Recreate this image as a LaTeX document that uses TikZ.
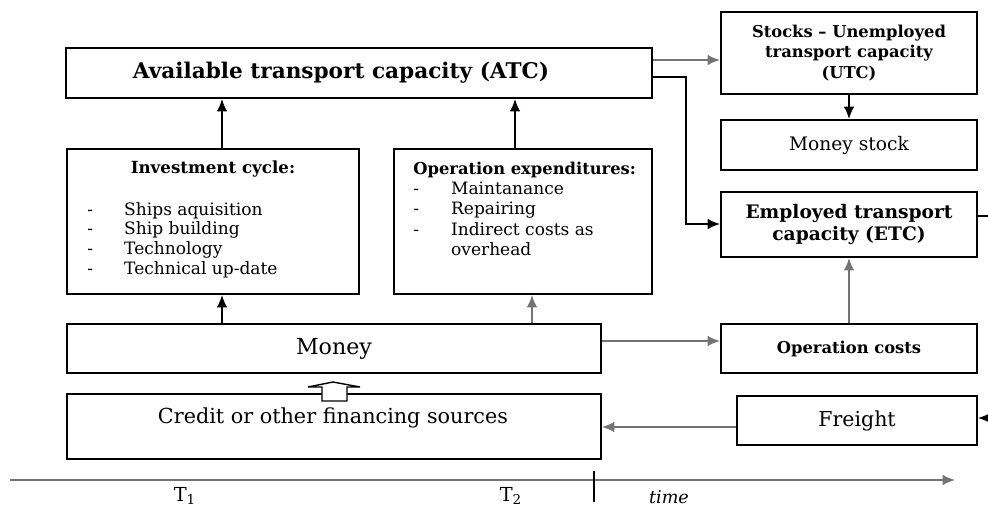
\documentclass[tikz,border=0pt]{standalone}
\usepackage{fontspec}
\setmainfont{DejaVu Serif}
\usetikzlibrary{arrows.meta}
\definecolor{line_grey}{RGB}{115, 115, 115}
\tikzstyle{box}=[rectangle,draw=black,line width=1.2pt,inner sep=0pt]
\tikzstyle{txt}=[inner sep=0pt,align=center]
\tikzstyle{arr}=[line width=0.9pt,-{Latex[length=7pt,width=6pt]}]
\tikzstyle{garr}=[line width=1pt,draw=line_grey,-{Latex[length=7pt,width=6pt]}]

\begin{document}
\begin{tikzpicture}[x=0.02cm, y=-0.02cm]
	\useasboundingbox (0,0) rectangle (988,508);
	\node [style=box, minimum width=11.72cm, minimum height=1cm] (0) at (359,73) {};
	\node [style=txt, font=\fontsize{12.3}{14}\selectfont\bfseries] (1) at (341,73) {Available transport capacity (ATC)};
	\node [style=box, minimum width=5.12cm, minimum height=1.64cm, font=\fontsize{9.3}{11.6}\selectfont\bfseries, align=center] (2) at (849,53) {Stocks -- Unemployed\\transport capacity\\(UTC)};
	\node [style=box, minimum width=5.12cm, minimum height=1cm, font=\fontsize{10.6}{12}\selectfont] (3) at (849,145) {Money stock};
	\node [style=box, minimum width=5.12cm, minimum height=1.3cm, font=\fontsize{10.6}{12.4}\selectfont\bfseries, align=center] (4) at (849,224.5) {Employed transport\\capacity (ETC)};
	\node [style=box, minimum width=5.84cm, minimum height=2.9cm] (5) at (213,221.5) {};
	\node [style=txt, font=\fontsize{9.5}{11}\selectfont\bfseries] (6) at (213,169) {Investment cycle:};
	\node [style=txt, anchor=base west, font=\fontsize{9.7}{11.3}\selectfont] (7) at (87,215) {\begin{tabular}[t]{@{}p{21pt}@{}l@{}}
		- & Ships aquisition\\
		- & Ship building\\
		- & Technology\\
		- & Technical up-date
	\end{tabular}};
	\node [style=box, minimum width=5.16cm, minimum height=2.9cm] (8) at (523,221.5) {};
	\node [style=txt, anchor=base west, font=\fontsize{9.7}{11.6}\selectfont] (9) at (413,174) {\begin{tabular}[t]{@{}p{21.5pt}@{}l@{}}
		\multicolumn{2}{@{}l}{\fontsize{9.3}{11}\selectfont\bfseries Operation expenditures:}\\
		- & Maintanance\\
		- & Repairing\\
		- & Indirect costs as\\
		  & overhead
	\end{tabular}};
	\node [style=box, minimum width=10.68cm, minimum height=0.98cm, font=\fontsize{12.6}{14}\selectfont] (10) at (334,348.5) {Money};
	\node [style=box, minimum width=5.12cm, minimum height=0.98cm, font=\fontsize{9.3}{11}\selectfont\bfseries] (11) at (849,348.5) {Operation costs};
	\node [style=box, minimum width=10.68cm, minimum height=1.3cm] (12) at (334,426.5) {};
	\node [style=txt, font=\fontsize{11.8}{13}\selectfont] (13) at (333,418) {Credit or other financing sources};
	\node [style=box, minimum width=4.8cm, minimum height=0.98cm, font=\fontsize{11.7}{13}\selectfont] (14) at (857,420.5) {Freight};
	\coordinate (15) at (988,216);
	\coordinate (16) at (988,418);
	\coordinate (17) at (10,480);
	\coordinate (18) at (955,480);
	\coordinate (19) at (594,471);
	\coordinate (20) at (594,502);
	\node [style=txt, font=\fontsize{11}{13}\selectfont] (21) at (185,496) {T\textsubscript{1}};
	\node [style=txt, font=\fontsize{11}{13}\selectfont] (22) at (511,496) {T\textsubscript{2}};
	\node [style=txt, font=\fontsize{10}{12}\selectfont\itshape] (23) at (669,497) {time};

	\draw [style=arr] (10.north -| 222,0) to (5.south -| 222,0);
	\draw [style=arr] (5.north -| 222,0) to (0.south -| 222,0);
	\draw [style=arr] (8.north -| 515,0) to (0.south -| 515,0);
	\draw [style=garr] (10.north -| 532,0) to (8.south -| 532,0);
	\draw [style=garr] (0.east |- 0,60) to (2.west |- 0,60);
	\draw [style=arr] (0.east |- 0,77) -| (686,224) to (4.west |- 0,224);
	\draw [style=arr] (2.south) to (3.north);
	\draw [style=garr] (11.north) to (4.south);
	\draw [style=garr] (10.east |- 0,341) to (11.west |- 0,341);
	\draw [style=garr] (14.west |- 0,427) to (12.east |- 0,427);
	\draw [line width=0.9pt] (4.east |- 15) to (15);
	\draw [style=arr] (16) to (14.east |- 16);
	\draw [style=garr] (17) to (18);
	\draw [line width=0.9pt] (19) to (20);
	% hollow arrow from credit up to money
	\draw [line width=0.8pt, fill=white] (322,401) -- (322,387) -- (308,387) -- (333,382) -- (360,387) -- (347,387) -- (347,401) -- cycle;
\end{tikzpicture}
\end{document}
